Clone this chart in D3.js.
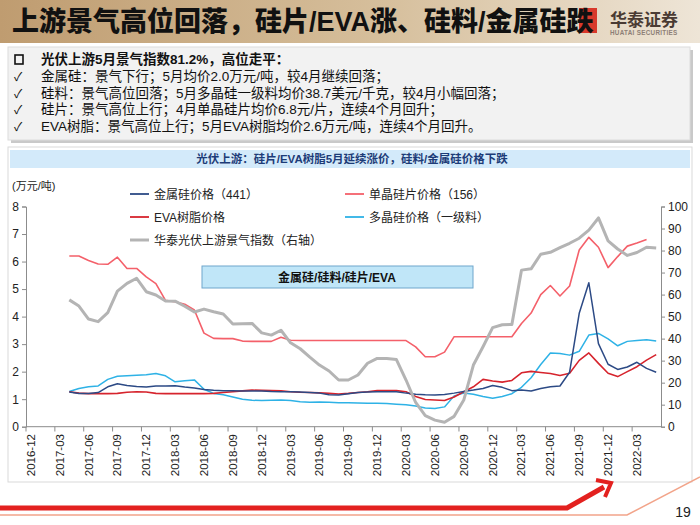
<!DOCTYPE html>
<html><head><meta charset="utf-8">
<script src="https://cdn.jsdelivr.net/npm/d3@7"></script>
<style>
html,body{margin:0;padding:0;background:#fff;}
svg{display:block;}
text{font-family:"Liberation Sans","Noto Sans CJK SC",sans-serif;}
</style></head>
<body>
<svg id="c" width="700" height="525"></svg>
<script>
// ---------- DATA ----------
const months = ["2016-12","2017-01","2017-02","2017-03","2017-04","2017-05","2017-06","2017-07","2017-08","2017-09","2017-10","2017-11",
"2017-12","2018-01","2018-02","2018-03","2018-04","2018-05","2018-06","2018-07","2018-08","2018-09","2018-10","2018-11",
"2018-12","2019-01","2019-02","2019-03","2019-04","2019-05","2019-06","2019-07","2019-08","2019-09","2019-10","2019-11",
"2019-12","2020-01","2020-02","2020-03","2020-04","2020-05","2020-06","2020-07","2020-08","2020-09","2020-10","2020-11",
"2020-12","2021-01","2021-02","2021-03","2021-04","2021-05","2021-06","2021-07","2021-08","2021-09","2021-10","2021-11",
"2021-12","2022-01","2022-02","2022-03","2022-04","2022-05"];
const tickLabels = ["2016-12","2017-03","2017-06","2017-09","2017-12","2018-03","2018-06","2018-09","2018-12","2019-03","2019-06",
"2019-09","2019-12","2020-03","2020-06","2020-09","2020-12","2021-03","2021-06","2021-09","2021-12","2022-03"];
const leftTicks = [0,1,2,3,4,5,6,7,8];
const rightTicks = [0,10,20,30,40,50,60,70,80,90,100];

const metalSilicon = [null,null,null,null,
1.26,1.21,1.21,1.24,1.45,1.56,1.5,1.46,1.44,1.48,1.48,1.49,1.44,1.41,1.35,1.32,1.31,1.31,1.3,1.3,1.3,1.28,1.27,1.27,
1.26,1.24,1.22,1.16,1.15,1.2,1.24,1.26,1.27,1.27,1.27,1.22,1.18,1.16,1.15,1.17,1.22,1.28,1.33,1.39,1.5,1.43,1.31,
1.33,1.3,1.39,1.45,1.48,1.98,4.12,5.23,3.02,2.27,2.08,2.17,2.34,2.12,1.98];
const waferPrice = [null,null,null,null,
6.2,6.2,6.04,5.91,5.9,6.16,5.75,5.75,5.44,5.2,4.59,4.54,4.45,4.24,3.4,3.21,3.2,3.2,3.11,3.1,3.1,3.1,3.25,3.14,
3.13,3.13,3.13,3.13,3.13,3.13,3.13,3.13,3.13,3.13,3.13,3.13,2.9,2.54,2.54,2.71,3.27,3.27,3.27,3.27,3.27,3.27,3.27,
3.75,4.13,4.8,5.13,4.75,5.11,6.42,6.88,6.52,5.78,6.18,6.56,6.67,6.8,null];
const evaPrice = [null,null,null,null,
1.27,1.22,1.2,1.2,1.2,1.21,1.25,1.27,1.26,1.21,1.2,1.2,1.2,1.2,1.2,1.21,1.24,1.27,1.3,1.33,1.32,1.31,1.3,1.27,
1.25,1.24,1.23,1.21,1.19,1.21,1.24,1.27,1.31,1.31,1.31,1.27,1.1,0.99,0.97,0.95,1.08,1.27,1.45,1.72,1.66,1.62,1.68,
1.96,2.01,1.97,1.93,1.86,1.94,2.41,2.68,2.3,1.94,1.82,2.0,2.18,2.42,2.62];
const polyPrice = [null,null,null,null,
1.28,1.39,1.45,1.48,1.72,1.83,1.85,1.87,1.89,1.93,1.85,1.63,1.67,1.7,1.36,1.21,1.16,1.08,1.0,0.96,0.95,0.96,0.97,0.95,
0.91,0.89,0.9,0.89,0.87,0.87,0.86,0.85,0.85,0.84,0.82,0.8,0.75,0.68,0.66,0.72,1.12,1.22,1.18,1.1,1.03,1.1,1.2,
1.43,1.78,2.26,2.68,2.66,2.6,2.74,3.33,3.39,3.19,2.94,3.1,3.13,3.16,3.11];
const prosperityIndex = [null,null,null,null,
57.6,54.8,48.9,47.7,51.8,61.6,65.1,67.4,61.3,59.8,57.1,57,54.7,52.1,53.4,52.2,51.2,46.6,46.8,46.9,42.6,41.6,43.8,38.1,
35.4,31.6,28,25.3,21.2,21.2,23.5,28.8,31,31,30.5,21.2,11,5,3,2,4.7,12.1,28,36.3,45,46.3,46.4,
71.1,71.7,78.3,79.2,81.3,83.3,85.6,89.3,94.8,84.4,80.7,77.8,79.1,81.5,81.2];

const seriesNames = ["金属硅价格（441）","单晶硅片价格（156）","EVA树脂价格","多晶硅价格（一级料）","华泰光伏上游景气指数（右轴）"];
const seriesColors = ["#2c4a85","#f4606a","#d6242d","#2eb2e6","#b4b4b4"];

const titleText = "上游景气高位回落，硅片/EVA涨、硅料/金属硅跌";
const bullets = [
 "光伏上游5月景气指数81.2%，高位走平：",
 "金属硅：景气下行；5月均价2.0万元/吨，较4月继续回落；",
 "硅料：景气高位回落；5月多晶硅一级料均价38.7美元/千克，较4月小幅回落；",
 "硅片：景气高位上行；4月单晶硅片均价6.8元/片，连续4个月回升；",
 "EVA树脂：景气高位上行；5月EVA树脂均价2.6万元/吨，连续4个月回升。"];
const chartTitle = "光伏上游：硅片/EVA树脂5月延续涨价，硅料/金属硅价格下跌";
const boxLabel = "金属硅/硅料/硅片/EVA";
const unitLabel = "(万元/吨)";

// ---------- DRAW ----------
const svg = d3.select("#c");
const defs = svg.append("defs");
const g1 = defs.append("linearGradient").attr("id","hdr").attr("x1","0").attr("x2","1").attr("y1","0").attr("y2","0");
g1.append("stop").attr("offset","0%").attr("stop-color","#bf9c70");
g1.append("stop").attr("offset","55%").attr("stop-color","#d6bf9c");
g1.append("stop").attr("offset","100%").attr("stop-color","#eee5d7");

// header
svg.append("rect").attr("x",0).attr("y",0).attr("width",700).attr("height",43).attr("fill","url(#hdr)");
svg.append("rect").attr("x",579).attr("y",8).attr("width",18).attr("height",25).attr("fill","#d8392b");
svg.append("text").attr("x",12).attr("y",31).attr("font-size",27).attr("font-weight",900)
  .attr("fill","#111").text(titleText);
svg.append("text").attr("x",610).attr("y",26).attr("font-size",17).attr("font-weight",700)
  .attr("fill","#4a3b33").text("华泰证券");
svg.append("text").attr("x",610).attr("y",35).attr("font-size",6.3).attr("font-weight",700)
  .attr("fill","#8d7f76").attr("letter-spacing",0.3).text("HUATAI SECURITIES");

// bullet box
svg.append("rect").attr("x",11).attr("y",50).attr("width",682).attr("height",93).attr("fill","#c9c9c9");
svg.append("rect").attr("x",8).attr("y",47).attr("width",682).attr("height",93).attr("fill","#f2f2f2").attr("stroke","#dcdcdc");
const by = [64,81,98,114,131];
bullets.forEach((t,i)=>{
  if(i===0){
    svg.append("rect").attr("x",15).attr("y",by[i]-9).attr("width",8).attr("height",9).attr("fill","none").attr("stroke","#111").attr("stroke-width",1.6);
  } else {
    svg.append("text").attr("x",14).attr("y",by[i]).attr("font-size",12).attr("fill","#111").text("✓");
  }
  svg.append("text").attr("x",41).attr("y",by[i]).attr("font-size",13.5).attr("fill","#111")
    .attr("font-weight", i===0?700:400).text(t);
});

// chart panel
svg.append("rect").attr("x",8).attr("y",147).attr("width",684).attr("height",335).attr("fill","#fff").attr("stroke","#d9d9d9");
svg.append("rect").attr("x",10).attr("y",150).attr("width",680).attr("height",18).attr("fill","#d3eafa");
svg.append("text").attr("x",352).attr("y",163).attr("text-anchor","middle").attr("font-size",11.5).attr("font-weight",700)
  .attr("fill","#1d3c78").text(chartTitle);

// scales
const x = d3.scaleBand().domain(months).range([26,661]).paddingInner(0).paddingOuter(0);
const yL = d3.scaleLinear().domain([0,8]).range([426.7,206.5]);
const yR = d3.scaleLinear().domain([0,100]).range([426.7,206.5]);
const cx = m => x(m) + x.bandwidth()/2;

// axes
const axL = svg.append("g").attr("transform","translate(26,0)")
  .call(d3.axisLeft(yL).tickValues(leftTicks).tickSize(4).tickPadding(3).tickFormat(d3.format("d")));
const axR = svg.append("g").attr("transform","translate(661,0)")
  .call(d3.axisRight(yR).tickValues(rightTicks).tickSize(4).tickPadding(3).tickFormat(d3.format("d")));
[axL,axR].forEach(a=>{
  a.selectAll("path,line").attr("stroke","#8c8c8c");
  a.selectAll("text").attr("font-size",12).attr("fill","#222").attr("font-family","Liberation Sans, sans-serif");
});
// x axis
const xb = svg.append("g");
xb.append("line").attr("x1",26).attr("x2",661).attr("y1",426.7).attr("y2",426.7).attr("stroke","#8c8c8c");
const boundaries = months.filter((m,i)=>i%3===0);
boundaries.forEach(m=>{
  xb.append("line").attr("x1",x(m)).attr("x2",x(m)).attr("y1",426.7).attr("y2",431.5).attr("stroke","#8c8c8c");
});
tickLabels.forEach(m=>{
  xb.append("text").attr("transform",`translate(${cx(m)+4},434) rotate(-90)`)
    .attr("text-anchor","end").attr("font-size",11.5).attr("fill","#222").text(m);
});

// unit label
svg.append("text").attr("x",12).attr("y",190).attr("font-size",11).attr("fill","#222").text(unitLabel);

// annotation box
svg.append("rect").attr("x",202).attr("y",266).attr("width",271).attr("height",22)
  .attr("fill","#c0e6f8").attr("stroke","#6fa6cc").attr("stroke-width",1);
svg.append("text").attr("x",337).attr("y",281.5).attr("text-anchor","middle").attr("font-size",12).attr("font-weight",700)
  .attr("fill","#111").text(boxLabel);

// lines
const idx = months.map((m,i)=>i);
function drawLine(vals, scale, color, w){
  const line = d3.line().defined(i=>vals[i]!==null).x(i=>cx(months[i])).y(i=>scale(vals[i]));
  svg.append("path").datum(idx).attr("d",line).attr("fill","none").attr("stroke",color)
    .attr("stroke-width",w).attr("stroke-linejoin","round");
}
drawLine(polyPrice, yL, seriesColors[3], 1.5);
drawLine(evaPrice, yL, seriesColors[2], 1.6);
drawLine(metalSilicon, yL, seriesColors[0], 1.5);
drawLine(waferPrice, yL, seriesColors[1], 1.6);
drawLine(prosperityIndex, yR, seriesColors[4], 3);

// legend
const legPos = [[130,194],[345,194],[130,217],[345,217],[130,240]];
seriesNames.forEach((n,i)=>{
  const [lx,ly] = legPos[i];
  svg.append("line").attr("x1",lx).attr("x2",lx+19).attr("y1",ly).attr("y2",ly)
    .attr("stroke",seriesColors[i]).attr("stroke-width", i===4?3:1.8);
  svg.append("text").attr("x",lx+24).attr("y",ly+4.5).attr("font-size",12).attr("fill","#222").text(n);
});

// footer
svg.append("path").attr("d","M0,515 L627,515 L700,477").attr("fill","none").attr("stroke","#f2a48a").attr("stroke-width",1.5);
svg.append("path").attr("d","M0,508 L567,508 L604,487").attr("fill","none").attr("stroke","#e3211f").attr("stroke-width",5);
svg.append("path").attr("d","M596,480 L611,483 L605,497").attr("fill","none").attr("stroke","#e3211f").attr("stroke-width",4).attr("stroke-linejoin","miter");
svg.append("text").attr("x",683).attr("y",517).attr("text-anchor","middle").attr("font-size",14).attr("fill","#222").text("19");
</script>
</body></html>
